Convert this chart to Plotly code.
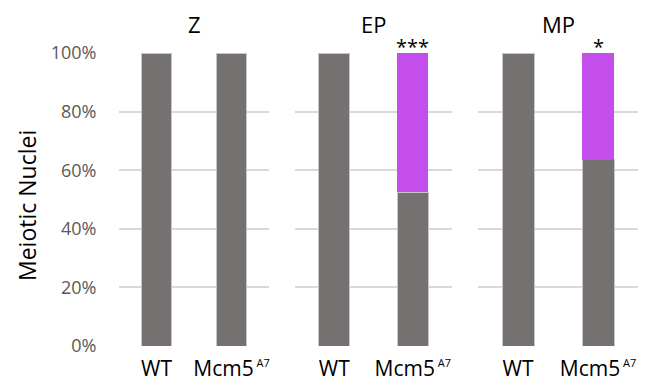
import plotly.graph_objects as go

stages = ["Z", "EP", "MP"]
genotypes = ["WT", "Mcm5<sup><span style='font-size:11px'> A7</span></sup>"]
gray_vals = [[1.0, 1.0], [1.0, 0.525], [1.0, 0.636]]
purple_vals = [[0.0, 0.0], [0.0, 0.475], [0.0, 0.364]]
signif = ["", "***", "*"]
y_ticks = [0, 0.2, 0.4, 0.6, 0.8, 1.0]
y_ticktext = ["0%", "20%", "40%", "60%", "80%", "100%"]

W, H = 658, 392
x_dom_px = [(119, 269), (295, 452), (478, 638)]
y_dom = [1 - 346 / H, 1 - 53 / H]

GRAY = "#767171"
PURPLE = "#C34EEC"
FONT = "Open Sans"

fig = go.Figure()
for i, st in enumerate(stages):
    sfx = "" if i == 0 else str(i + 1)
    fig.add_trace(go.Bar(x=genotypes, y=gray_vals[i], marker_color=GRAY,
                         marker_line=dict(color="#C8C6C6", width=1),
                         xaxis="x" + sfx, yaxis="y" + sfx, showlegend=False,
                         name="normal"))
    fig.add_trace(go.Bar(x=genotypes, y=purple_vals[i], marker_color=PURPLE,
                         marker_line_width=0,
                         xaxis="x" + sfx, yaxis="y" + sfx, showlegend=False,
                         name="abnormal"))

layout = dict(
    width=W, height=H, barmode="stack", bargap=0.6,
    margin=dict(l=0, r=0, t=0, b=0, autoexpand=False),
    plot_bgcolor="white", paper_bgcolor="white",
    font=dict(family=FONT, color="black"),
)
annotations = []
for i, st in enumerate(stages):
    sfx = "" if i == 0 else str(i + 1)
    a, b = x_dom_px[i]
    layout["xaxis" + sfx] = dict(
        domain=[a / W, b / W], anchor="y" + sfx, automargin=False,
        showgrid=False, showline=False, zeroline=False,
        tickfont=dict(size=21, color="black", family=FONT),
        ticks="outside", ticklen=4, tickcolor="rgba(0,0,0,0)",
    )
    ydict = dict(
        domain=y_dom, anchor="x" + sfx, range=[0, 1.0], automargin=False,
        tickvals=y_ticks, ticktext=y_ticktext,
        showgrid=True, gridcolor="#D9D9D9", gridwidth=2,
        zeroline=False, showline=False,
    )
    if i == 0:
        ydict.update(
            tickfont=dict(size=18, color="#595959", family=FONT),
            ticks="outside", ticklen=18, tickcolor="rgba(0,0,0,0)",
        )
    else:
        ydict.update(showticklabels=False, matches="y")
    layout["yaxis" + sfx] = ydict
    annotations.append(dict(
        text=st, x=(a + b) / 2 / W, y=1 - 24 / H, xref="paper", yref="paper",
        showarrow=False, font=dict(size=22, color="black", family=FONT),
        xanchor="center", yanchor="middle",
    ))
    if signif[i]:
        annotations.append(dict(
            text=signif[i], x=genotypes[1], y=1.0, xref="x" + sfx, yref="y" + sfx,
            showarrow=False, font=dict(size=20, color="black", family=FONT),
            xanchor="center", yanchor="bottom", yshift=-9,
        ))
annotations.append(dict(
    text="Meiotic Nuclei", x=27 / W, y=1 - 206 / H, xref="paper", yref="paper",
    showarrow=False, textangle=-90, font=dict(size=23, color="black", family=FONT),
    xanchor="center", yanchor="middle",
))
layout["annotations"] = annotations
fig.update_layout(**layout)
fig.write_html("out.html", config={"displayModeBar": False},
               post_script="document.body.style.margin='0';")
